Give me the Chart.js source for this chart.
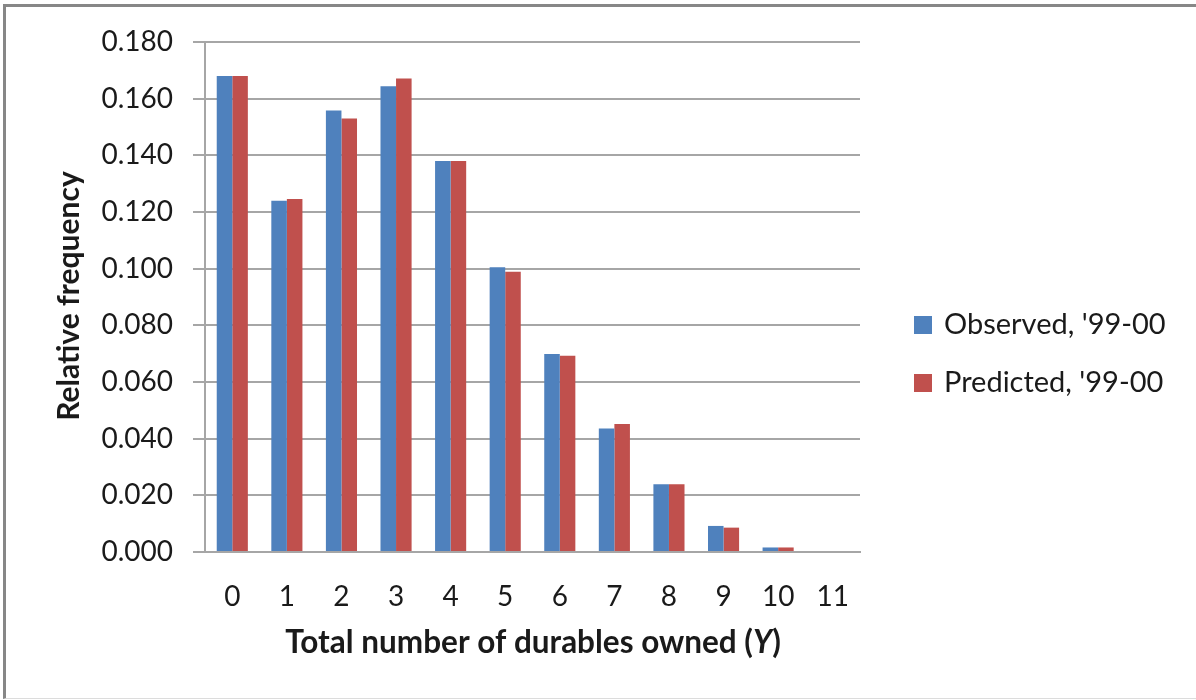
<!DOCTYPE html>
<html>
<head>
<meta charset="utf-8">
<script src="https://cdn.jsdelivr.net/npm/chart.js@4.4.1/dist/chart.umd.min.js"></script>
<style>
  html, body { margin: 0; padding: 0; background: #fff; overflow: hidden; }
  #frame {
    position: absolute; left: 3px; top: 4px; width: 1200px; height: 695px;
    border-left: 3px solid #878787; border-top: 3px solid #878787;
    border-bottom: 1px solid #dcdcdc; box-sizing: border-box;
  }
  #wrap { position: absolute; left: 0; top: 0; width: 1196px; height: 700px; }
</style>
</head>
<body>
<div id="frame"></div>
<div id="wrap"><canvas id="c" width="1196" height="700"></canvas></div>
<script>
// Number of durables owned per household
const categories = ['0', '1', '2', '3', '4', '5', '6', '7', '8', '9', '10', '11'];
// Relative frequencies, 1999-2000
const observed  = [0.168, 0.124, 0.1558, 0.1644, 0.138, 0.1005, 0.0699, 0.0436, 0.0239, 0.0092, 0.0016, 0];
const predicted = [0.168, 0.1246, 0.1530, 0.1671, 0.138, 0.0989, 0.0693, 0.0452, 0.0239, 0.0086, 0.0016, 0];
const seriesNames = ["Observed, '99-00", "Predicted, '99-00"];
const seriesColors = ['#4F81BD', '#C0504D'];
const yMin = 0, yMax = 0.18, yStep = 0.02;
const yTitle = 'Relative frequency';
const xTitleParts = [
  { text: 'Total number of durables owned (', italic: false },
  { text: 'Y', italic: true },
  { text: ')', italic: false }
];

const FONT = 'Lato, "Open Sans", sans-serif';
const TEXT = '#1a1a1a';
const GRID = '#a6a6a6';

// Axis titles and the legend, drawn on top of the chart
const decorations = {
  id: 'decorations',
  afterDraw(chart) {
    const ctx = chart.ctx;
    ctx.save();
    ctx.fillStyle = TEXT;

    // vertical axis title
    ctx.save();
    ctx.translate(69, 296);
    ctx.rotate(-Math.PI / 2);
    ctx.font = 'bold 30px ' + FONT;
    ctx.textAlign = 'center';
    ctx.textBaseline = 'middle';
    ctx.fillText(yTitle, 0, 0);
    ctx.restore();

    // horizontal axis title with italic variable name
    const fonts = xTitleParts.map(p => (p.italic ? 'italic ' : '') + 'bold 31.5px ' + FONT);
    const widths = xTitleParts.map((p, i) => { ctx.font = fonts[i]; return ctx.measureText(p.text).width; });
    const total = widths.reduce((a, b) => a + b, 0);
    let x = 533 - total / 2;
    ctx.textAlign = 'left';
    ctx.textBaseline = 'middle';
    xTitleParts.forEach((p, i) => {
      ctx.font = fonts[i];
      ctx.fillText(p.text, x, 643);
      x += widths[i];
    });

    // legend
    const ys = [325, 383];
    chart.data.datasets.forEach((ds, i) => {
      ctx.fillStyle = ds.backgroundColor;
      ctx.fillRect(914, ys[i] - 9, 18, 18);
      ctx.fillStyle = TEXT;
      ctx.font = '29px ' + FONT;
      ctx.textAlign = 'left';
      ctx.textBaseline = 'middle';
      ctx.fillText(ds.label, 944, ys[i]);
    });
    ctx.restore();
  }
};

new Chart(document.getElementById('c'), {
  type: 'bar',
  data: {
    labels: categories,
    datasets: [
      { label: seriesNames[0], data: observed, backgroundColor: seriesColors[0] },
      { label: seriesNames[1], data: predicted, backgroundColor: seriesColors[1] }
    ]
  },
  options: {
    responsive: false,
    animation: false,
    devicePixelRatio: 1,
    layout: { padding: { left: 0, top: 42, right: 336, bottom: 0 } },
    datasets: { bar: { categoryPercentage: 0.57, barPercentage: 1.0, borderWidth: 0 } },
    plugins: { legend: { display: false }, tooltip: { enabled: false } },
    scales: {
      x: {
        grid: { display: false, drawTicks: false },
        border: { display: true, color: GRID, width: 2 },
        ticks: { color: TEXT, font: { family: FONT, size: 28 }, padding: 28, maxRotation: 0 },
        afterFit(scale) { scale.height = 148; }
      },
      y: {
        min: yMin, max: yMax,
        grid: { color: GRID, lineWidth: 2, tickLength: 12 },
        border: { display: true, color: GRID, width: 2 },
        ticks: {
          stepSize: yStep,
          color: TEXT,
          font: { family: FONT, size: 28 },
          padding: 20,
          callback: v => v.toFixed(3)
        },
        afterFit(scale) { scale.width = 205; }
      }
    }
  },
  plugins: [decorations]
});
</script>
</body>
</html>
